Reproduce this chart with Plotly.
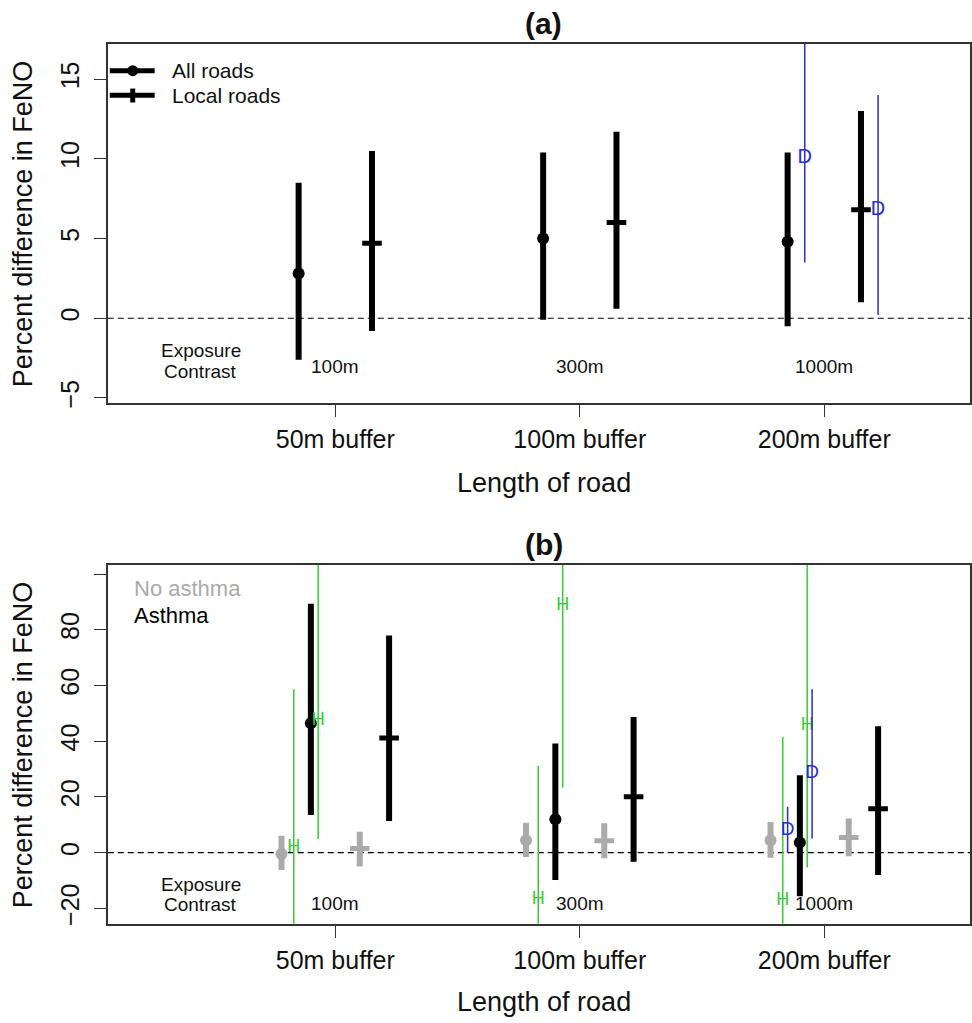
import plotly.graph_objects as go

# ---------------- data ----------------
groups = ["50m buffer", "100m buffer", "200m buffer"]
contrasts = ["100m", "300m", "1000m"]
group_pos = [1, 2, 3]

# Panel (a): all roads / local roads
a_all_est = [2.8, 5.0, 4.8]
a_all_lo = [-2.6, -0.1, -0.5]
a_all_hi = [8.5, 10.4, 10.4]
a_loc_est = [4.7, 6.0, 6.8]
a_loc_lo = [-0.8, 0.6, 1.0]
a_loc_hi = [10.5, 11.7, 13.0]
# Panel (a): "D" sensitivity estimates (200m buffer only)
a_D_all_est = [None, None, 10.05]
a_D_all_lo = [None, None, 3.5]
a_D_all_hi = [None, None, 19.0]
a_D_loc_est = [None, None, 6.8]
a_D_loc_lo = [None, None, 0.2]
a_D_loc_hi = [None, None, 14.0]

# Panel (b): no asthma / asthma, all roads / local roads
b_no_all_est = [-0.5, 4.5, 4.5]
b_no_all_lo = [-6.2, -1.5, -1.8]
b_no_all_hi = [6.1, 10.8, 11.0]
b_as_all_est = [46.5, 12.0, 3.7]
b_as_all_lo = [13.5, -9.8, -15.6]
b_as_all_hi = [89.4, 39.2, 27.8]
b_no_loc_est = [1.5, 4.3, 5.5]
b_no_loc_lo = [-4.9, -2.0, -1.3]
b_no_loc_hi = [7.5, 10.6, 12.3]
b_as_loc_est = [41.2, 20.1, 15.8]
b_as_loc_lo = [11.4, -3.2, -8.0]
b_as_loc_hi = [78.0, 48.7, 45.4]
# Panel (b): "H" sensitivity estimates
b_H_no_est = [1.9, -16.8, -17.1]
b_H_no_lo = [-35.0, -35.0, -35.0]
b_H_no_hi = [58.7, 31.1, 41.5]
b_H_as_est = [47.4, 88.7, 45.7]
b_H_as_lo = [4.9, 23.3, -5.3]
b_H_as_hi = [120.0, 120.0, 120.0]
# Panel (b): "D" sensitivity estimates (200m buffer only)
b_D_no_est = [None, None, 7.9]
b_D_no_lo = [None, None, -0.1]
b_D_no_hi = [None, None, 16.5]
b_D_as_est = [None, None, 28.7]
b_D_as_lo = [None, None, 5.1]
b_D_as_hi = [None, None, 58.7]

a_yticks = [-5, 0, 5, 10, 15]
b_yticks = [-20, 0, 20, 40, 60, 80, 100]
b_yticktext = ["\u221220", "0", "20", "40", "60", "80", ""]
a_yticktext = ["\u22125", "0", "5", "10", "15"]

# ---------------- style / layout constants ----------------
W, H = 972, 1023
FONT = "Liberation Sans, Arial, sans-serif"
BLACK = "#000000"
GRAY = "#aaaaaa"
GREEN = "#33cc33"
BLUE = "#2a2ad8"

OFF_A = {"all": -0.15, "loc": 0.15, "D_all": -0.08, "D_loc": 0.22}
OFF_B = {"no_all": -0.22, "as_all": -0.10, "no_loc": 0.10, "as_loc": 0.22,
         "H_no": -0.17, "H_as": -0.07, "D_no": -0.15, "D_as": -0.05}


def px(x):
    return x / W


def py(y):
    return 1 - y / H


def err(est, lo, hi):
    up = [None if e is None else h - e for e, h in zip(est, hi)]
    dn = [None if e is None else e - l for e, l in zip(est, lo)]
    return up, dn


def xs(offset):
    return [g + offset for g in group_pos]


def thick_series(est, lo, hi, off, color, symbol, xa, ya):
    up, dn = err(est, lo, hi)
    if symbol == "circle":
        marker = dict(symbol="circle", size=12, color=color, line=dict(width=0))
    else:
        marker = dict(symbol="line-ew", size=14, color=color,
                      line=dict(width=5, color=color))
    return go.Scatter(
        x=xs(off), y=est, mode="markers", marker=marker,
        error_y=dict(type="data", symmetric=False, array=up, arrayminus=dn,
                     thickness=6, width=0, color=color),
        xaxis=xa, yaxis=ya, showlegend=False, hoverinfo="skip")


def thin_series(est, lo, hi, off, color, char, size, xa, ya):
    up, dn = err(est, lo, hi)
    return go.Scatter(
        x=xs(off), y=est, mode="text", text=[char] * len(est),
        textposition="middle center",
        textfont=dict(family=FONT, size=size, color=color),
        error_y=dict(type="data", symmetric=False, array=up, arrayminus=dn,
                     thickness=1.5, width=0, color=color),
        xaxis=xa, yaxis=ya, showlegend=False, hoverinfo="skip")


fig = go.Figure()

# Panel (a)
fig.add_trace(thick_series(a_all_est, a_all_lo, a_all_hi, OFF_A["all"], BLACK, "circle", "x", "y"))
fig.add_trace(thick_series(a_loc_est, a_loc_lo, a_loc_hi, OFF_A["loc"], BLACK, "cross", "x", "y"))
fig.add_trace(thin_series(a_D_all_est, a_D_all_lo, a_D_all_hi, OFF_A["D_all"], BLUE, "D", 20, "x", "y"))
fig.add_trace(thin_series(a_D_loc_est, a_D_loc_lo, a_D_loc_hi, OFF_A["D_loc"], BLUE, "D", 20, "x", "y"))

# Panel (b)
fig.add_trace(thick_series(b_no_all_est, b_no_all_lo, b_no_all_hi, OFF_B["no_all"], GRAY, "circle", "x2", "y2"))
fig.add_trace(thick_series(b_as_all_est, b_as_all_lo, b_as_all_hi, OFF_B["as_all"], BLACK, "circle", "x2", "y2"))
fig.add_trace(thick_series(b_no_loc_est, b_no_loc_lo, b_no_loc_hi, OFF_B["no_loc"], GRAY, "cross", "x2", "y2"))
fig.add_trace(thick_series(b_as_loc_est, b_as_loc_lo, b_as_loc_hi, OFF_B["as_loc"], BLACK, "cross", "x2", "y2"))
fig.add_trace(thin_series(b_H_no_est, b_H_no_lo, b_H_no_hi, OFF_B["H_no"], GREEN, "H", 18, "x2", "y2"))
fig.add_trace(thin_series(b_H_as_est, b_H_as_lo, b_H_as_hi, OFF_B["H_as"], GREEN, "H", 18, "x2", "y2"))
fig.add_trace(thin_series(b_D_no_est, b_D_no_lo, b_D_no_hi, OFF_B["D_no"], BLUE, "D", 19, "x2", "y2"))
fig.add_trace(thin_series(b_D_as_est, b_D_as_lo, b_D_as_hi, OFF_B["D_as"], BLUE, "D", 19, "x2", "y2"))

AXLINE = "#333333"
xrange_ = [1 - 228 / 245, 3 + 146 / 245]


def xaxis(anchor):
    return dict(domain=[px(108), 1.0], range=xrange_, anchor=anchor,
                tickvals=group_pos, ticktext=groups, ticks="outside", ticklen=12,
                tickwidth=1.2, tickcolor=AXLINE, showline=True, linewidth=1.5,
                linecolor=AXLINE, mirror=True, showgrid=False, zeroline=False,
                tickfont=dict(family=FONT, size=25, color="#111"),
                ticklabelstandoff=1, fixedrange=True)


def yaxis(anchor, dom, rng, tv, tt):
    return dict(domain=dom, range=rng, anchor=anchor, tickvals=tv, ticktext=tt,
                tickangle=-90, ticks="outside", ticklen=12, tickwidth=1.2,
                tickcolor=AXLINE, showline=True, linewidth=1.5, linecolor=AXLINE,
                mirror=True, showgrid=False, zeroline=False,
                tickfont=dict(family=FONT, size=25, color="#111"),
                ticklabelstandoff=5, fixedrange=True)


layout = dict(
    width=W, height=H, margin=dict(l=0, r=0, t=0, b=0),
    paper_bgcolor="white", plot_bgcolor="white",
    font=dict(family=FONT, color="#111"),
    xaxis=xaxis("y"),
    yaxis=yaxis("x", [py(405), py(44)], [-5.32, 17.22], a_yticks, a_yticktext),
    xaxis2=xaxis("y2"),
    yaxis2=yaxis("x2", [py(928.3), py(567.7)], [-25.5, 103.3], b_yticks, b_yticktext),
    showlegend=False,
)
fig.update_layout(**layout)

shapes = []
# dashed reference lines at zero
for xr, yr in (("x domain", "y"), ("x2 domain", "y2")):
    shapes.append(dict(type="line", xref=xr, yref=yr, x0=0, x1=1, y0=0, y1=0,
                       line=dict(color=BLACK, width=1.2, dash="6px,4px"), layer="below"))
# legend keys, panel (a)
for yk in (71, 95.7):
    shapes.append(dict(type="line", xref="paper", yref="paper", x0=px(110), x1=px(155),
                       y0=py(yk), y1=py(yk), line=dict(color=BLACK, width=5)))
shapes.append(dict(type="circle", xref="paper", yref="paper", x0=px(127.5), x1=px(138.5),
                   y0=py(76.5), y1=py(65.5), fillcolor=BLACK, line=dict(width=0)))
shapes.append(dict(type="line", xref="paper", yref="paper", x0=px(133), x1=px(133),
                   y0=py(89), y1=py(103), line=dict(color=BLACK, width=5)))
fig.update_layout(shapes=shapes)

ann = []


def text(x, y, s, size, color="#111", xref="paper", yref="paper", xanchor="center",
         angle=0, bold=False):
    ann.append(dict(x=x, y=y, xref=xref, yref=yref, text=("<b>%s</b>" % s) if bold else s,
                    showarrow=False, xanchor=xanchor, yanchor="middle", textangle=angle,
                    font=dict(family=FONT, size=size, color=color)))


# panel titles
text(px(545), py(24), "(a)", 30, bold=True)
text(px(545), py(546.7), "(b)", 30, bold=True)
# axis titles
text(px(545), py(485), "Length of road", 27)
text(px(545), py(1006.7), "Length of road", 27)
text(px(23), py(224.5), "Percent difference in FeNO", 27, angle=-90)
text(px(23), py(748), "Percent difference in FeNO", 27, angle=-90)
# legends
text(px(170), py(71), "All roads", 21, xanchor="left")
text(px(170), py(95.7), "Local roads", 21, xanchor="left")
text(px(132), py(591), "No asthma", 22, color=GRAY, xanchor="left")
text(px(132), py(618.3), "Asthma", 22, color=BLACK, xanchor="left")
# exposure contrast labels
text(0.45, -2.01, "Exposure", 19, xref="x", yref="y")
text(0.45, -3.32, "Contrast", 19, xref="x", yref="y")
text(0.45, -11.5, "Exposure", 19, xref="x2", yref="y2")
text(0.45, -18.6, "Contrast", 19, xref="x2", yref="y2")
for g, c in zip(group_pos, contrasts):
    text(g, -3.0, c, 19, xref="x", yref="y")
    text(g, -18.3, c, 19, xref="x2", yref="y2")
fig.update_layout(annotations=ann)

fig.write_html("out.html", config={"displayModeBar": False},
               post_script="document.body.style.margin='0';")
